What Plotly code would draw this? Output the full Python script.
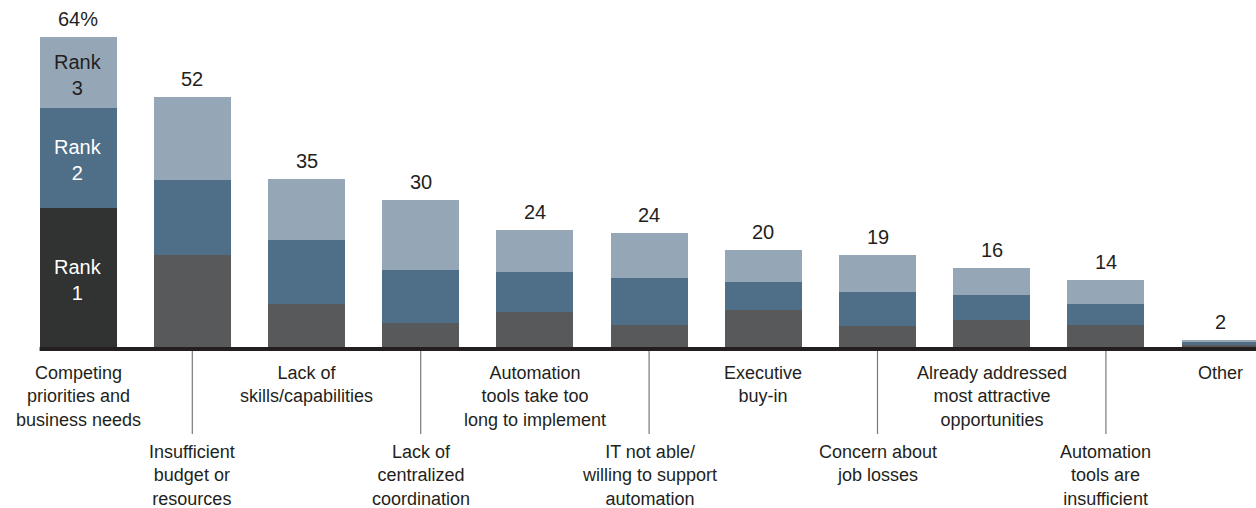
import plotly.graph_objects as go

categories = [
    "Competing<br>priorities and<br>business needs",
    "Insufficient<br>budget or<br>resources",
    "Lack of<br>skills/capabilities",
    "Lack of<br>centralized<br>coordination",
    "Automation<br>tools take too<br>long to implement",
    "IT not able/<br>willing to support<br>automation",
    "Executive<br>buy-in",
    "Concern about<br>job losses",
    "Already addressed<br>most attractive<br>opportunities",
    "Automation<br>tools are<br>insufficient",
    "Other",
]
rank1 = [28.7, 19.0, 8.9, 5.0, 7.2, 4.5, 7.6, 4.3, 5.6, 4.5, 0.5]
rank2 = [20.7, 15.5, 13.2, 11.0, 8.3, 9.7, 5.8, 7.0, 5.2, 4.3, 0.5]
rank3 = [14.6, 17.2, 12.6, 14.3, 8.7, 9.3, 6.6, 7.8, 5.6, 5.0, 0.55]
total_labels = ["64%", "52", "35", "30", "24", "24", "20", "19", "16", "14", "2"]
rank_names = ["Rank<br>1", "Rank<br>2", "Rank<br>3"]

W, H = 1256, 508
ML, MB = 21, 161
plot_w = W - ML
plot_h = H - MB
px_per_cat = 114.2
px_per_unit = 4.84
xr = [-0.5, -0.5 + plot_w / px_per_cat]
yr = [0, plot_h / px_per_unit]
bargap = 0.326

TXT = "#231f20"
C1, C1_HI = "#58595b", "#313232"
C2 = "#4f6e88"
C3 = "#95a7b6"
FONT = "Liberation Sans, Arial, sans-serif"

n = len(categories)
xs = list(range(n))

fig = go.Figure()
fig.add_bar(x=xs, y=rank1, marker=dict(color=[C1_HI] + [C1] * (n - 1), line=dict(width=0)), name="Rank 1")
fig.add_bar(x=xs, y=rank2, marker=dict(color=C2, line=dict(width=0)), name="Rank 2")
fig.add_bar(x=xs, y=rank3, marker=dict(color=C3, line=dict(width=0)), name="Rank 3")

def px_to_paper_y(py):
    return (plot_h - py) / plot_h

def x_to_paper(x):
    return (x - xr[0]) / (xr[1] - xr[0])

annotations = []
shapes = []

# totals
for i in xs:
    top = rank1[i] + rank2[i] + rank3[i]
    annotations.append(dict(x=i, y=top, xref="x", yref="y", text=total_labels[i],
                            showarrow=False, yanchor="bottom", yshift=5,
                            font=dict(size=20, color=TXT, family=FONT)))

# rank labels inside first bar
segs = [rank1[0], rank2[0], rank3[0]]
base = 0
for k, s in enumerate(segs):
    annotations.append(dict(x=0, y=base + s / 2, xref="x", yref="y", text=rank_names[k],
                            showarrow=False, yanchor="middle", yshift=-2,
                            font=dict(size=20, color="white" if k < 2 else TXT, family=FONT)))
    base += s

# category labels
for i in xs:
    lower = i % 2 == 1
    top_px = 440 if lower else 361
    annotations.append(dict(x=i, y=px_to_paper_y(top_px), xref="x", yref="paper",
                            text=categories[i], showarrow=False, yanchor="top", align="center",
                            font=dict(size=18, color=TXT, family=FONT)))
    if lower:
        shapes.append(dict(type="line", xref="paper", yref="paper",
                           x0=x_to_paper(i), x1=x_to_paper(i),
                           y0=px_to_paper_y(351), y1=px_to_paper_y(434),
                           line=dict(color="#7a7a7a", width=1.2)))

# baseline
shapes.append(dict(type="line", xref="paper", yref="paper",
                   x0=x_to_paper(-(1 - bargap) / 2), x1=1.0,
                   y0=px_to_paper_y(349), y1=px_to_paper_y(349),
                   line=dict(color="#231f20", width=4)))

fig.update_layout(
    barmode="stack",
    bargap=bargap,
    width=W, height=H,
    margin=dict(l=ML, r=0, t=0, b=MB, pad=0),
    paper_bgcolor="white", plot_bgcolor="white",
    showlegend=False,
    xaxis=dict(range=xr, visible=False, fixedrange=True),
    yaxis=dict(range=yr, visible=False, fixedrange=True),
    annotations=annotations,
    shapes=shapes,
    font=dict(family=FONT, color=TXT),
)

fig.write_html("out.html", config={"displayModeBar": False})
